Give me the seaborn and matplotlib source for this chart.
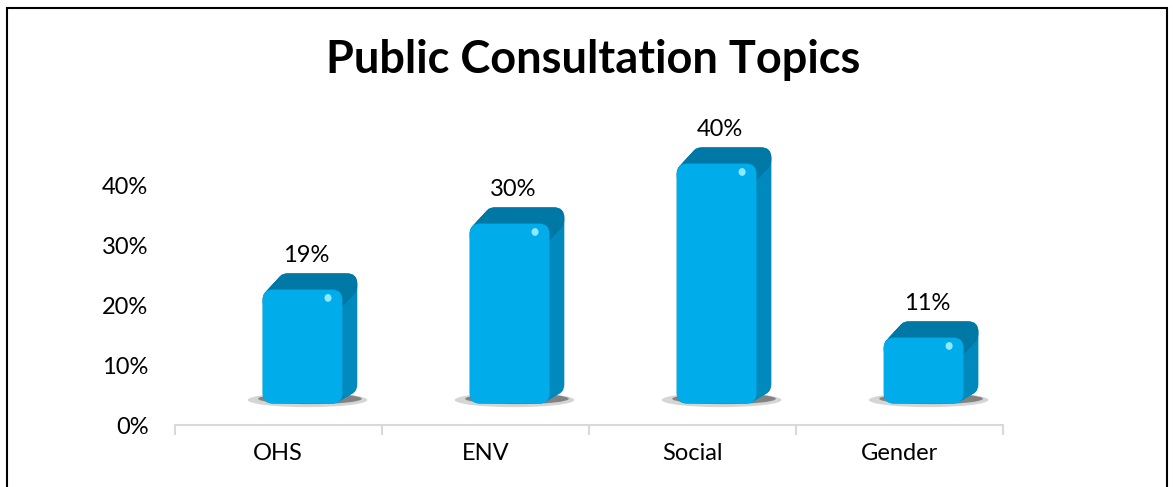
import numpy as np
import pandas as pd
import matplotlib
matplotlib.use("Agg")
import matplotlib.pyplot as plt
import seaborn as sns
from matplotlib.patches import FancyBboxPatch, Rectangle, Ellipse

# --- Data ---
topics = ['OHS', 'ENV', 'Social', 'Gender']
shares = [0.19, 0.30, 0.40, 0.11]
share_labels = ['19%', '30%', '40%', '11%']
y_ticks = [0.0, 0.1, 0.2, 0.3, 0.4]
y_tick_labels = ['0%', '10%', '20%', '30%', '40%']

# --- Style ---
FRONT = '#00ADEA'
SIDE = '#0089BC'
TOP = '#0078A6'
FLOOR = 0.036           # bars sit on a 3D floor slightly above the axis
DX, DY = 0.072, 0.027   # depth of the fake 3D extrusion (data units)
SHIFT = 0.117           # perspective shift of the bars to the right
ROUND = 0.05            # corner rounding (x data units)
FS = 17

sns.set_theme(style='white')
plt.rcParams['font.family'] = ['Lato', 'DejaVu Sans']
plt.rcParams['text.color'] = 'black'
plt.rcParams['xtick.color'] = 'black'
plt.rcParams['ytick.color'] = 'black'

fig = plt.figure(figsize=(11.73, 4.87), dpi=100)
ax = fig.add_axes([0.149, 0.127, 0.706, 0.616])

df = pd.DataFrame({'topic': topics, 'share': shares})
sns.barplot(data=df, x='topic', y='share', color=FRONT, saturation=1,
            width=0.385, linewidth=0, ax=ax, zorder=3)

ax.set_xlim(-0.5, len(topics) - 0.5)
ax.set_ylim(0, 0.5)

# pixel aspect so rounded corners look circular
px = ax.transData.transform([(0, 0), (1, 1)])
aspect = (px[1, 0] - px[0, 0]) / (px[1, 1] - px[0, 1])
style = f'round,pad=0,rounding_size={ROUND}'


def rbox(x, y, w, h, color, z):
    ax.add_patch(FancyBboxPatch((x, y), w, h, boxstyle=style,
                                mutation_aspect=aspect, color=color,
                                lw=0, zorder=z))


for patch, label in zip(ax.patches[:len(topics)], share_labels):
    patch.set_visible(False)
    x0 = patch.get_x() + SHIFT
    w, h = patch.get_width(), patch.get_height()
    y0, y1 = FLOOR, FLOOR + h

    # soft shadow on the floor
    ax.add_patch(Ellipse((x0 + w / 2 + DX / 3, y0 + 0.006), w * 1.5, 0.024,
                         color='#888888', alpha=0.35, lw=0, zorder=2))
    ax.add_patch(Ellipse((x0 + w / 2 + DX / 2, y0 + 0.008), w * 1.3, 0.018,
                         color='#333333', alpha=0.5, lw=0, zorder=2))

    # extruded body (side), then the darker top, then the front face
    for t in np.linspace(1, 0, 12):
        rbox(x0 + t * DX, y0 + t * DY * 0.55, w, h + t * DY * 0.45, SIDE, 3)
    for t in np.linspace(1, 0, 12):
        rbox(x0 + t * DX, y1 - 2.2 * ROUND * aspect + t * DY, w,
             2.2 * ROUND * aspect, TOP, 4)
    rbox(x0, y0, w, h, FRONT, 5)

    # small highlight
    ax.add_patch(Ellipse((x0 + w * 0.82, y1 - 0.014), 0.034, 0.013,
                         color='#8FE9FF', lw=0, zorder=6))

    ax.text(x0 + w / 2 + DX / 4, y1 + DY + 0.013, label, ha='center',
            va='bottom', fontsize=FS, color='black')

ax.set_yticks(y_ticks)
ax.set_yticklabels(y_tick_labels)
ax.set_xlabel('')
ax.set_ylabel('')

ax.set_xticks(np.arange(-0.5, len(topics)), minor=True)
ax.tick_params(axis='x', which='major', length=0, pad=13, labelsize=FS)
ax.tick_params(axis='x', which='minor', length=7, width=1.5, color='#D9D9D9',
               bottom=True, direction='out')
ax.tick_params(axis='y', length=0, pad=19, labelsize=FS)

for side in ['top', 'right', 'left']:
    ax.spines[side].set_visible(False)
ax.spines['bottom'].set_color('#D9D9D9')
ax.spines['bottom'].set_linewidth(1.5)

fig.text(0.506, 0.877, 'Public Consultation Topics', ha='center', va='center',
         fontsize=32.5, fontweight='bold', color='black')

# outer chart frame (bottom edge falls outside the image)
fig.patches.append(Rectangle((7 / 1173, -0.05), 1160 / 1173, 1.05 - 8 / 487,
                             transform=fig.transFigure, fill=False,
                             edgecolor='black', linewidth=1.5))

fig.savefig('out.png', dpi=100)
